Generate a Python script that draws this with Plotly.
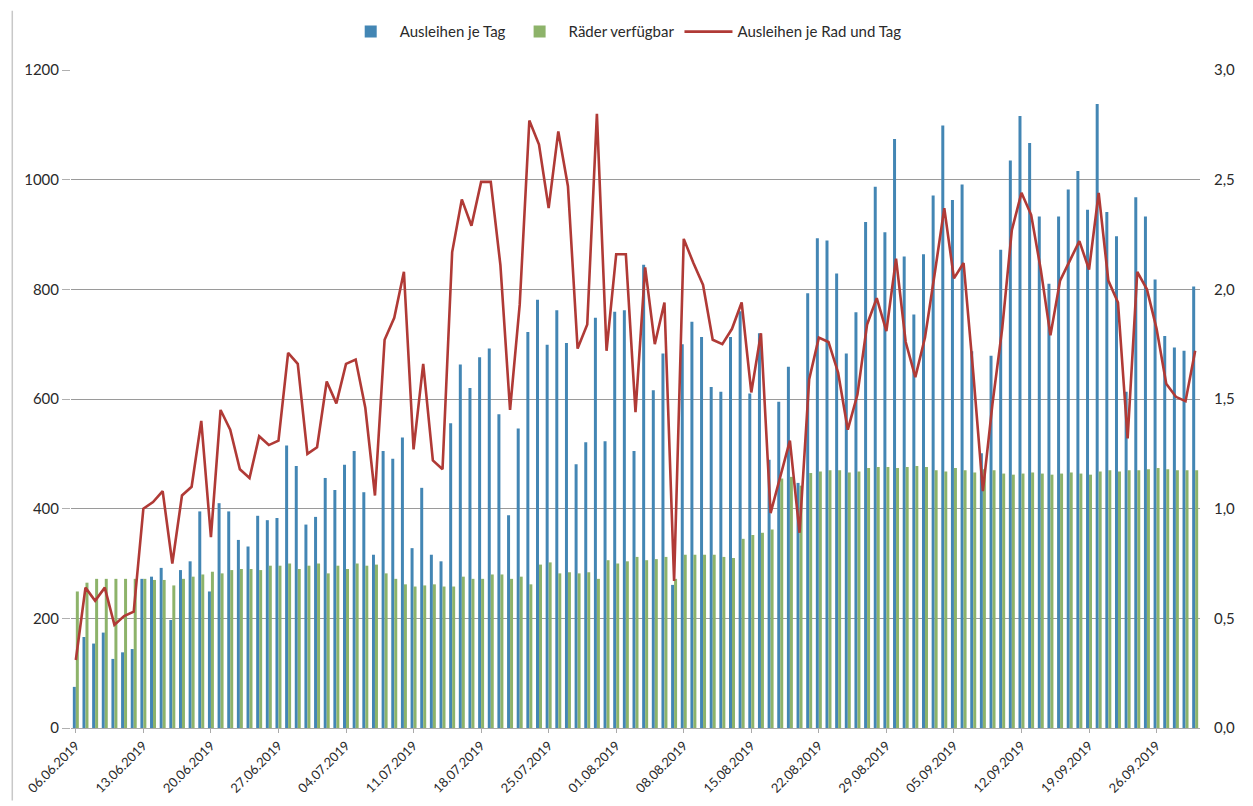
import pandas as pd
import plotly.graph_objects as go
from plotly.subplots import make_subplots

dates = [d.strftime("%d.%m.%Y") for d in pd.date_range("2019-06-06", "2019-09-30", freq="D")]

ausleihen = [75, 166, 154, 174, 126, 138, 144, 272, 276, 292,
             197, 288, 304, 395, 249, 410, 395, 343, 331, 387,
             379, 383, 515, 478, 371, 385, 456, 434, 480, 505,
             430, 316, 505, 491, 530, 328, 438, 316, 304, 556,
             663, 620, 676, 692, 572, 388, 546, 722, 781, 699,
             762, 702, 481, 521, 748, 523, 759, 762, 505, 845,
             616, 683, 261, 700, 741, 713, 622, 613, 713, 760,
             610, 720, 489, 595, 659, 447, 793, 893, 889, 829,
             683, 758, 923, 987, 904, 1074, 860, 754, 864, 971,
             1099, 963, 991, 687, 501, 679, 872, 1035, 1116, 1067,
             933, 810, 933, 982, 1016, 945, 1138, 941, 897, 613,
             968, 933, 818, 715, 694, 688, 805]

raeder = [249, 265, 272, 272, 272, 272, 272, 272, 270, 270,
          260, 272, 276, 280, 285, 282, 288, 290, 290, 288,
          296, 296, 300, 290, 296, 300, 282, 296, 290, 300,
          296, 298, 282, 272, 262, 258, 260, 262, 258, 258,
          276, 272, 272, 280, 280, 272, 276, 262, 298, 302,
          282, 284, 282, 284, 272, 306, 300, 304, 312, 306,
          308, 312, 272, 316, 316, 316, 316, 312, 310, 345,
          352, 356, 362, 455, 458, 442, 465, 468, 470, 470,
          466, 468, 474, 476, 476, 474, 476, 478, 476, 470,
          468, 474, 470, 466, 472, 470, 464, 462, 464, 466,
          464, 462, 464, 466, 464, 462, 468, 470, 468, 470,
          470, 472, 474, 472, 470, 470, 470]

je_rad = [0.31, 0.64, 0.58, 0.64, 0.47, 0.51, 0.53, 1.00, 1.03, 1.08,
          0.75, 1.06, 1.10, 1.40, 0.87, 1.45, 1.36, 1.18, 1.14, 1.33,
          1.29, 1.31, 1.71, 1.66, 1.25, 1.28, 1.58, 1.48, 1.66, 1.68,
          1.46, 1.06, 1.77, 1.87, 2.08, 1.27, 1.66, 1.22, 1.18, 2.17,
          2.41, 2.29, 2.49, 2.49, 2.11, 1.45, 1.93, 2.77, 2.66, 2.37,
          2.72, 2.47, 1.73, 1.84, 2.80, 1.72, 2.16, 2.16, 1.44, 2.10,
          1.75, 1.94, 0.67, 2.23, 2.12, 2.02, 1.77, 1.75, 1.82, 1.94,
          1.53, 1.80, 0.98, 1.15, 1.31, 0.89, 1.59, 1.78, 1.76, 1.62,
          1.36, 1.52, 1.84, 1.96, 1.81, 2.14, 1.76, 1.60, 1.78, 2.07,
          2.37, 2.05, 2.12, 1.62, 1.08, 1.48, 1.82, 2.27, 2.44, 2.34,
          2.09, 1.79, 2.04, 2.13, 2.22, 2.09, 2.44, 2.04, 1.94, 1.32,
          2.08, 2.00, 1.82, 1.57, 1.51, 1.49, 1.72]

tick_labels = dates[::7]

FONT = "Lato, 'Open Sans', sans-serif"

fig = make_subplots(specs=[[{"secondary_y": True}]])

fig.add_trace(go.Bar(x=dates, y=ausleihen, name="Ausleihen je Tag",
                     marker=dict(color="#4386b4", line=dict(width=0))),
              secondary_y=False)
fig.add_trace(go.Bar(x=dates, y=raeder, name="Räder verfügbar",
                     marker=dict(color="#8db36a", line=dict(width=0))),
              secondary_y=False)
fig.add_trace(go.Scatter(x=dates, y=je_rad, name="Ausleihen je Rad und Tag",
                         mode="lines", line=dict(color="#b03a36", width=2.6)),
              secondary_y=True)

fig.update_layout(
    width=1253, height=806,
    margin=dict(l=63, r=61, t=62, b=86, autoexpand=False),
    paper_bgcolor="white", plot_bgcolor="white",
    barmode="group", bargap=0.38, bargroupgap=0.0,
    separators=",.",
    font=dict(family=FONT, size=15, color="#2a2a2a"),
    legend=dict(orientation="h", x=0.49, xanchor="center", y=1.058, yanchor="middle",
                font=dict(size=15, color="#2a2a2a"), traceorder="normal",
                itemwidth=48),
    showlegend=True,
)

fig.update_xaxes(type="category", range=[-0.5, len(dates) - 0.5], automargin=False,
                 domain=[0, 1],
                 tickmode="array", tickvals=tick_labels, ticktext=tick_labels,
                 tickangle=-45, tickfont=dict(size=13, color="#2a2a2a"),
                 showgrid=False, showline=True, linecolor="#aaaaaa",
                 ticks="outside", ticklen=4, tickcolor="#aaaaaa")

fig.update_yaxes(range=[0, 1200], dtick=200, tickformat="d", automargin=False,
                 showgrid=True, gridcolor="#9a9a9a", gridwidth=1,
                 showline=False, zeroline=False,
                 tickfont=dict(size=15, color="#2a2a2a"),
                 ticks="outside", ticklen=8, tickcolor="#b0b0b0",
                 secondary_y=False)
fig.update_yaxes(range=[0, 3], dtick=0.5, tickformat=".1f", automargin=False,
                 showgrid=False, showline=False, zeroline=False,
                 tickfont=dict(size=15, color="#2a2a2a"),
                 ticks="outside", ticklen=10, tickcolor="#ffffff",
                 secondary_y=True)

for xb in (-0.052, 1.041):
    fig.add_shape(type="line", xref="paper", yref="paper",
                  x0=xb, x1=xb, y0=-0.11, y1=1.09,
                  line=dict(color="#c8c8c8", width=1.5), layer="below")

fig.write_html("out.html")
